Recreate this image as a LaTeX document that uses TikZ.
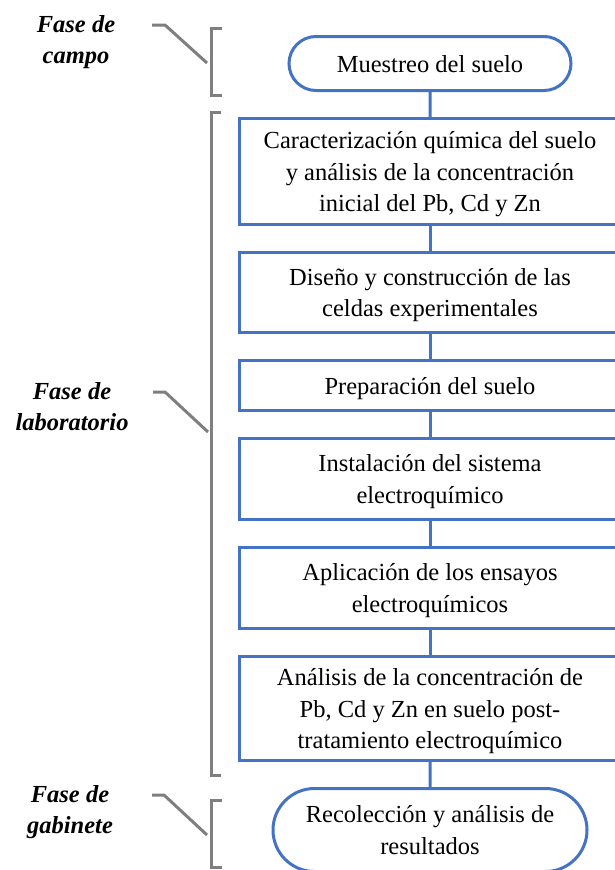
\documentclass[tikz,border=0pt]{standalone}
\usepackage{fontspec}
\setmainfont{Liberation Serif}
\usetikzlibrary{positioning, shapes.misc}

\definecolor{azul}{HTML}{4472C4}
\definecolor{gris}{HTML}{7F7F7F}

\begin{document}
\begin{tikzpicture}[x=1pt, y=-1pt, node distance=25pt, align=center,
    every node/.style={font=\fontsize{24.5}{31.5}\selectfont}]

  \tikzstyle{paso}=[draw=azul, line width=3pt, minimum width=381pt, inner sep=2pt, text depth=-7pt]
  \tikzstyle{extremo}=[paso, rounded rectangle]
  \tikzstyle{linea}=[draw=azul, line width=3pt]
  \tikzstyle{llave}=[draw=gris, line width=3pt]
  \tikzstyle{fase}=[font=\fontsize{24.5}{31}\selectfont\bfseries\itshape]

  \useasboundingbox (0,0) rectangle (614,870);

  % diagrama de flujo
  \node[extremo, minimum width=286pt, minimum height=54pt] (MUESTREO) at (430,63.5) {Muestreo del suelo};
  \node[paso, minimum height=106pt] (CARAC) [below=of MUESTREO]
  {Caracterización química del suelo\\y análisis de la concentración\\inicial del Pb, Cd y Zn};
  \node[paso, minimum height=80pt] (DISENO) [below=of CARAC]
  {Diseño y construcción de las\\celdas experimentales};
  \node[paso, minimum height=50pt] (PREP) [below=of DISENO] {Preparación del suelo};
  \node[paso, minimum height=81pt] (INST) [below=of PREP]
  {Instalación del sistema\\electroquímico};
  \node[paso, minimum height=81pt] (APLIC) [below=of INST]
  {Aplicación de los ensayos\\electroquímicos};
  \node[paso, minimum height=104pt] (ANALISIS) [below=of APLIC]
  {Análisis de la concentración de\\Pb, Cd y Zn en suelo post-\\tratamiento electroquímico};
  \node[extremo, minimum width=318pt, minimum height=83pt] (RECOL) [below=of ANALISIS]
  {Recolección y análisis de\\resultados};

  \draw[linea] (MUESTREO) -- (CARAC);
  \draw[linea] (CARAC) -- (DISENO);
  \draw[linea] (DISENO) -- (PREP);
  \draw[linea] (PREP) -- (INST);
  \draw[linea] (INST) -- (APLIC);
  \draw[linea] (APLIC) -- (ANALISIS);
  \draw[linea] (ANALISIS) -- (RECOL);

  % fases
  \node[fase] (CAMPO) at (76,42) {Fase de\\campo};
  \node[fase] (LAB) at (72,407) {Fase de\\laboratorio};
  \node[fase] (GAB) at (70,812) {Fase de\\gabinete};

  \coordinate (campoA) at (152,25);
  \coordinate (campoB) at (207,63);
  \coordinate (labA) at (153,392);
  \coordinate (labB) at (208,432);
  \coordinate (gabA) at (152,795);
  \coordinate (gabB) at (207,835);

  \draw[llave] (campoA) -- ++(13,0) -- (campoB);
  \draw[llave] (labA) -- ++(12,0) -- (labB);
  \draw[llave] (gabA) -- ++(12,0) -- (gabB);

  \draw[llave] (222,28) -- (211,28) -- (211,95) -- (222,95);
  \draw[llave] (221,112) -- (211,112) -- (211,775) -- (221,775);
  \draw[llave] (222,800) -- (211,800) -- (211,867) -- (222,867);
\end{tikzpicture}
\end{document}
